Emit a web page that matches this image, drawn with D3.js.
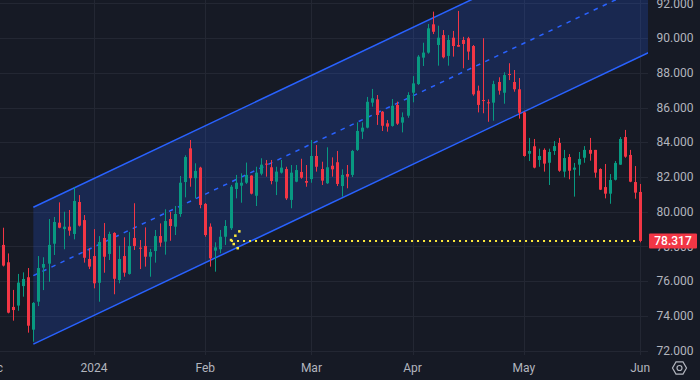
<!DOCTYPE html>
<html><head><meta charset="utf-8">
<script src="https://cdn.jsdelivr.net/npm/d3@7"></script>
<style>html,body{margin:0;padding:0;background:#161a25;overflow:hidden}</style>
</head><body><svg id="c" width="700" height="380"></svg>
<script>
// ---- data (Brent, daily candles) ----
const opens = [78.09,77.09,74.52,74.60,75.72,76.23,73.21,74.82,76.78,77.01,78.16,79.37,79.00,79.14,78.72,80.56,79.52,77.28,
77.45,75.91,78.49,77.57,78.78,76.07,77.45,76.42,78.49,77.93,78.03,77.41,77.74,78.60,78.28,79.58,79.14,79.87,81.71,83.65,81.93,82.54,
80.45,79.14,77.76,77.84,78.56,79.05,81.31,81.50,81.67,82.08,80.92,82.19,82.77,82.56,81.73,82.25,82.46,80.68,81.73,82.29,81.77,
81.88,83.21,82.46,81.64,82.65,82.85,81.48,82.17,82.12,83.56,84.61,84.84,86.28,86.47,85.76,85.09,84.94,86.15,85.13,85.53,
86.85,87.35,88.87,89.16,90.79,89.60,90.17,88.97,90.02,89.60,89.89,89.99,89.54,86.97,86.43,86.30,86.28,87.47,86.85,87.93,87.47,87.05,
85.72,83.34,83.77,82.98,83.56,82.82,83.50,83.96,82.31,83.15,82.42,82.71,83.11,83.56,83.56,82.46,81.42,81.04,81.84,82.71,84.30,83.27,81.71,
81.14];
const highs = [79.08,77.60,75.50,76.42,76.51,76.76,74.80,77.45,77.38,79.58,79.70,80.54,80.00,80.10,81.41,80.96,79.81,77.90,
79.00,78.60,79.35,78.85,78.82,78.04,78.53,78.83,80.49,78.37,79.10,77.86,78.95,79.33,80.14,79.99,80.33,82.06,83.25,84.13,82.79,82.59,
80.50,79.33,78.24,78.95,79.52,81.54,82.12,82.21,82.83,82.10,82.59,83.08,82.98,82.98,82.59,82.98,82.59,82.69,82.69,83.05,82.69,
84.13,83.84,82.88,83.71,83.13,83.50,82.44,82.69,83.56,85.15,85.15,86.61,87.07,86.72,85.80,85.28,86.49,86.34,85.72,86.88,
87.81,89.02,89.73,90.81,91.52,90.71,90.46,90.17,90.41,91.56,90.07,90.07,89.60,87.26,89.99,86.47,87.54,87.74,88.03,88.55,88.16,87.70,
85.76,84.25,84.19,83.63,83.65,83.63,84.07,84.25,83.56,83.32,82.81,83.44,83.78,84.25,83.56,82.50,82.75,82.17,82.92,84.30,84.71,83.56,82.63,
81.60];
const lows = [76.85,74.15,73.73,74.30,75.11,73.04,72.52,74.57,75.49,75.97,77.51,79.05,77.84,78.62,78.41,79.15,77.07,76.70,
75.59,74.82,76.49,77.22,75.25,75.88,76.26,76.38,77.80,76.70,76.84,76.26,77.07,77.99,77.53,78.33,78.66,79.71,80.83,81.44,80.77,80.20,
78.56,76.84,76.55,77.61,78.09,78.95,80.77,80.52,81.60,81.00,80.33,82.10,82.02,81.58,80.96,82.20,80.68,80.20,81.70,81.90,81.44,
81.67,82.31,81.54,81.60,82.02,81.48,80.87,81.35,82.00,83.50,84.19,84.80,86.05,85.00,84.65,84.61,84.90,85.00,84.57,85.41,
86.30,87.30,88.39,89.10,90.23,88.41,88.83,88.41,88.93,89.50,88.26,88.74,86.68,85.72,85.67,85.18,85.24,86.74,86.22,87.58,86.91,85.36,
83.17,82.92,82.50,82.59,82.31,81.54,83.27,82.30,81.98,81.87,80.87,82.08,82.82,82.94,81.96,81.25,80.77,80.46,81.80,82.70,83.11,81.70,80.75,
78.24];
const closes = [76.90,74.19,74.34,75.92,76.13,73.44,74.75,76.76,76.99,78.09,79.41,79.08,79.14,78.91,80.62,79.20,77.35,76.84,
75.88,78.26,77.41,78.72,76.14,77.28,76.49,78.03,78.03,77.87,77.41,77.68,78.60,78.22,79.47,79.18,79.87,81.67,83.15,81.93,82.35,80.39,
78.66,77.32,77.95,78.56,79.18,81.44,81.67,81.67,82.12,81.04,82.25,82.71,82.71,81.77,82.31,82.54,80.77,82.25,82.40,81.96,81.67,
83.21,82.59,81.79,82.56,82.44,81.60,82.12,82.02,83.50,84.65,84.84,86.33,86.53,85.57,84.95,84.90,86.10,85.07,85.44,86.72,
87.39,88.93,89.16,90.56,90.36,90.02,88.89,89.89,89.54,89.50,89.66,89.22,86.76,86.15,86.38,86.24,87.35,86.97,87.87,87.87,87.05,85.70,
83.21,83.50,82.54,83.21,82.77,83.44,83.78,82.36,83.09,82.36,82.54,83.04,83.56,83.34,82.25,81.27,81.04,81.83,82.81,84.19,83.17,81.73,81.10,
78.317];
const monthLabels = ["Dec","2024","Feb","Mar","Apr","May","Jun"];
const monthIndex  = [-2, 18, 40, 61, 81, 103, 126];
const priceTicks  = [72,74,76,78,80,82,84,86,88,90,92];
// regression channel (bar index based)
const channelStartIdx = 6, channelMidStart = 76.32, channelSlope = 0.1379, channelDev = 3.94;
const lastPrice = 78.317;
const priceLineFromIdx = 45.1, priceLineToIdx = 125.3;
const markerIdx = [46.74, 45.95, 45.10, 45.63, 46.42];
const markerVal = [78.87, 78.62, 78.37, 78.14, 77.90];

// ---- layout ----
const W = 700, H = 380, plotR = 648, plotB = 355;
const BG = "#161a25", GRID = "#232733", TXT = "#b2b5be";
const UP = "#089981", DOWN = "#f23645", BLUE = "#2962ff";

const svg = d3.select("#c");
svg.append("rect").attr("width", W).attr("height", H).attr("fill", BG);

const x = d3.scaleLinear().domain([0, 126]).range([3, 640.1]);
const y = d3.scaleLinear().domain([72, 92]).range([350.7, 3.3]);

svg.append("defs").append("clipPath").attr("id", "plot")
  .append("rect").attr("x", 0).attr("y", 0).attr("width", plotR).attr("height", plotB);

const plot = svg.append("g").attr("clip-path", "url(#plot)");

// grid
plot.selectAll("line.hg").data(priceTicks).enter().append("line")
  .attr("x1", 0).attr("x2", plotR)
  .attr("y1", d => Math.round(y(d)) + 0.5).attr("y2", d => Math.round(y(d)) + 0.5)
  .attr("stroke", GRID).attr("stroke-width", 1);
plot.selectAll("line.vg").data(monthIndex).enter().append("line")
  .attr("x1", d => Math.round(x(d)) + 0.5).attr("x2", d => Math.round(x(d)) + 0.5)
  .attr("y1", 0).attr("y2", plotB)
  .attr("stroke", GRID).attr("stroke-width", 1);

// channel
const endIdx = x.invert(plotR + 2);
const mid = i => channelMidStart + channelSlope * (i - channelStartIdx);
const up = i => mid(i) + channelDev, lo = i => mid(i) - channelDev;
plot.append("path")
  .attr("d", `M${x(channelStartIdx)},${y(up(channelStartIdx))}L${x(endIdx)},${y(up(endIdx))}L${x(endIdx)},${y(lo(endIdx))}L${x(channelStartIdx)},${y(lo(channelStartIdx))}Z`)
  .attr("fill", BLUE).attr("fill-opacity", 0.2);
const line = (f, dash) => {
  const p = plot.append("line")
    .attr("x1", x(channelStartIdx)).attr("y1", y(f(channelStartIdx)))
    .attr("x2", x(endIdx)).attr("y2", y(f(endIdx)))
    .attr("stroke", BLUE).attr("stroke-width", 1.5);
  if (dash) p.attr("stroke-dasharray", dash);
};
line(up); line(lo); line(mid, "4.5,5.5");

// candles
const idx = d3.range(closes.length);
const cg = plot.append("g");
idx.forEach(i => {
  const cx = Math.round(x(i));
  const col = closes[i] >= opens[i] ? UP : DOWN;
  cg.append("rect").attr("x", cx).attr("width", 1)
    .attr("y", y(highs[i])).attr("height", Math.max(1, y(lows[i]) - y(highs[i])))
    .attr("fill", col);
  const top = y(Math.max(opens[i], closes[i])), bot = y(Math.min(opens[i], closes[i]));
  cg.append("rect").attr("x", cx - 1).attr("width", 3)
    .attr("y", top).attr("height", Math.max(1, bot - top))
    .attr("fill", col);
});

// price line (dotted yellow) and marker
const YEL = "#ffeb3b";
plot.append("line")
  .attr("x1", x(priceLineFromIdx)).attr("x2", x(priceLineToIdx))
  .attr("y1", Math.round(y(lastPrice))).attr("y2", Math.round(y(lastPrice)))
  .attr("stroke", YEL).attr("stroke-width", 2).attr("stroke-dasharray", "2,4");
plot.selectAll("rect.mk").data(markerIdx).enter().append("rect")
  .attr("x", (d) => x(d) - 1.25).attr("y", (d, k) => y(markerVal[k]) - 1.25)
  .attr("width", 2.5).attr("height", 2.5).attr("fill", YEL);

// right axis labels
const font = "Roboto, 'Liberation Sans', sans-serif";
svg.selectAll("text.yl").data(priceTicks).enter().append("text")
  .attr("x", 656.5).attr("y", d => y(d)).attr("dy", "0.35em")
  .attr("font-family", font).attr("font-size", 12).attr("fill", TXT)
  .text(d => d3.format(".3f")(d));

// last price tag
const ly = y(lastPrice);
svg.append("rect").attr("x", 649).attr("y", ly - 7.5).attr("width", 48).attr("height", 15)
  .attr("rx", 1).attr("fill", DOWN);
svg.append("text").attr("x", 673).attr("y", ly).attr("dy", "0.36em")
  .attr("text-anchor", "middle").attr("font-family", font).attr("font-size", 12)
  .attr("font-weight", 500).attr("fill", "#ffffff").text(d3.format(".3f")(lastPrice));

// bottom axis labels
svg.selectAll("text.xl").data(monthIndex).enter().append("text")
  .attr("x", d => x(d)).attr("y", 368).attr("dy", "0.35em")
  .attr("text-anchor", "middle").attr("font-family", font).attr("font-size", 12)
  .attr("fill", TXT).text((d, k) => monthLabels[k]);

// settings icon
const gx = 679.5, gy = 368, r = 7;
const hex = d3.range(6).map(k => {
  const a = Math.PI / 3 * k;
  return [gx + r * Math.cos(a), gy + r * Math.sin(a)];
});
svg.append("path").attr("d", "M" + hex.join("L") + "Z")
  .attr("fill", "none").attr("stroke", TXT).attr("stroke-width", 1.2);
svg.append("circle").attr("cx", gx).attr("cy", gy).attr("r", 2.5)
  .attr("fill", "none").attr("stroke", TXT).attr("stroke-width", 1.2);
</script></body></html>
